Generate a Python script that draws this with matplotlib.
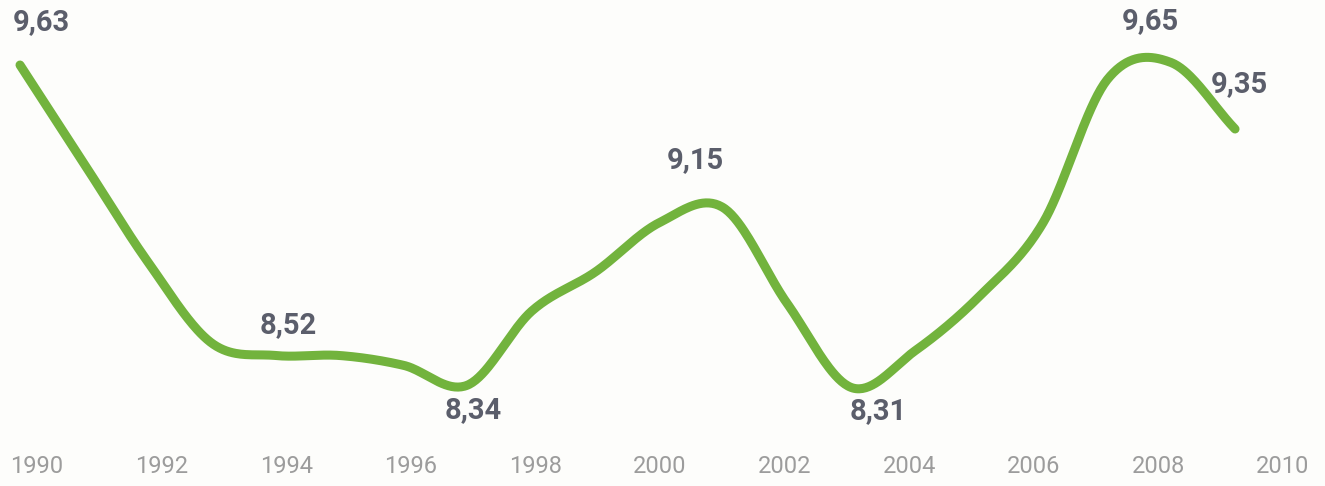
import numpy as np
import matplotlib.pyplot as plt

# yearly values
years = list(range(1990, 2010))
values = [9.63, 9.23, 8.83, 8.50, 8.45, 8.45, 8.41, 8.33, 8.63, 8.79,
          8.99, 9.05, 8.66, 8.32, 8.47, 8.69, 8.99, 9.57, 9.64, 9.37]

# labelled points: year, text, offset in points
label_years = [1990, 1994, 1997, 2001, 2003, 2008, 2009]
label_texts = ["9,63", "8,52", "8,34", "9,15", "8,31", "9,65", "9,35"]
label_offsets = [(15, 31), (9, 22), (4, -18), (-20, 34), (19, -17), (-15, 30), (3, 32)]

tick_years = list(range(1990, 2011, 2))

GREEN = "#72b33d"
LABEL = "#5b5e6b"
TICK = "#9c9c9c"


def smooth(x, y, n=40):
    """Catmull-Rom curve through the points, for drawing only"""
    x = np.asarray(x, float)
    y = np.asarray(y, float)
    m = np.gradient(y, x)
    xs, ys = [], []
    for i in range(len(x) - 1):
        t = np.linspace(0, 1, n, endpoint=False)
        h = x[i + 1] - x[i]
        h00 = 2 * t**3 - 3 * t**2 + 1
        h10 = t**3 - 2 * t**2 + t
        h01 = -2 * t**3 + 3 * t**2
        h11 = t**3 - t**2
        xs.append(x[i] + t * h)
        ys.append(h00 * y[i] + h10 * h * m[i] + h01 * y[i + 1] + h11 * h * m[i + 1])
    xs.append([x[-1]])
    ys.append([y[-1]])
    return np.concatenate(xs), np.concatenate(ys)


def main():
    fig = plt.figure(figsize=(13.25, 4.86), dpi=100)
    fig.patch.set_facecolor("#fdfdfb")
    ax = fig.add_axes([0, 41 / 486, 1, 445 / 486])
    ax.set_facecolor("#fdfdfb")

    sx, sy = smooth(years, values)
    ax.plot(sx, sy, color=GREEN, lw=6.5, solid_capstyle="round")

    for yr, txt, off in zip(label_years, label_texts, label_offsets):
        v = values[years.index(yr)]
        ax.annotate(txt, (yr, v), xytext=off, textcoords="offset points",
                    ha="center", va="center", fontsize=21, fontweight="bold",
                    family="Roboto", color=LABEL)

    # pixel mapping: 1990 at x=20, 63.95 px per year
    ax.set_xlim(1990 - 20 / 63.95, 1990 + 1305 / 63.95)
    ax.set_ylim(9.63 - 380 / 246.2, 9.63 + 65 / 246.2)

    # tick labels sit slightly off the data years
    tick_pos = [1990 + (37 + (t - 1990) * 62.3 - 20) / 63.95 for t in tick_years]
    ax.set_xticks(tick_pos, labels=[str(t) for t in tick_years])
    ax.tick_params(axis="x", length=0, pad=7, labelsize=17, labelcolor=TICK)
    for lab in ax.get_xticklabels():
        lab.set_family("Roboto")
    ax.set_yticks([])
    for s in ax.spines.values():
        s.set_visible(False)

    fig.savefig("out.png", dpi=100, facecolor=fig.get_facecolor())
    return 0


if __name__ == "__main__":
    main()
